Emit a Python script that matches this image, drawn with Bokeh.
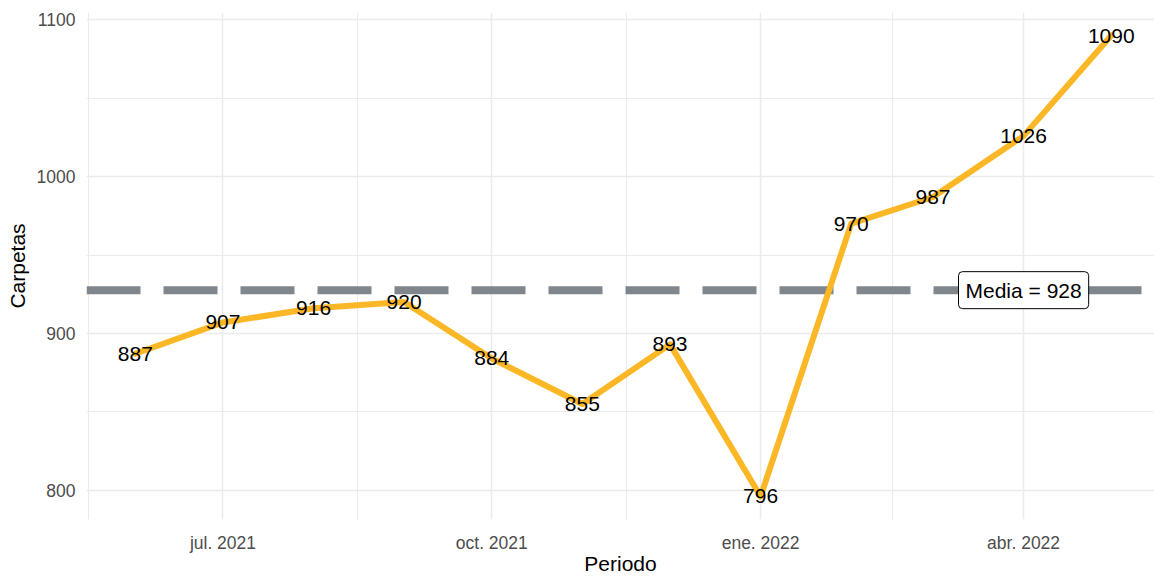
import pandas as pd
from bokeh.plotting import figure
from bokeh.models import (ColumnDataSource, Range1d, FixedTicker, Span, Label)
from bokeh.embed import file_html
from bokeh.resources import INLINE

# ---- data ----
periods = ["2021-06-01", "2021-07-01", "2021-08-01", "2021-09-01", "2021-10-01", "2021-11-01",
           "2021-12-01", "2022-01-01", "2022-02-01", "2022-03-01", "2022-04-01", "2022-05-01"]
carpetas = [887, 907, 916, 920, 884, 855, 893, 796, 970, 987, 1026, 1090]
x_tick_dates = ["2021-07-01", "2021-10-01", "2022-01-01", "2022-04-01"]
x_tick_labels = ["jul. 2021", "oct. 2021", "ene. 2022", "abr. 2022"]
y_ticks = [800, 900, 1000, 1100]
y_minor = [850, 950, 1050]

DAY = 86400000.0


def ms(d):
    return int(pd.Timestamp(d).value // 10**6)


xs = [ms(d) for d in periods]
labels = [str(v) for v in carpetas]
mean_val = sum(carpetas) / len(carpetas)

src = ColumnDataSource(dict(x=xs, y=carpetas, label=labels))

FONT = "Liberation Sans"
LINE_COLOR = "#FBB726"
GRID = "#EBEBEB"

x_start = xs[0] - 16.7 * DAY
x_end = xs[-1] + 14.8 * DAY

p = figure(width=1154, height=577, output_backend="svg", toolbar_location=None,
           x_range=Range1d(x_start, x_end), y_range=Range1d(781.3, 1104.7),
           min_border_left=86, min_border_right=0, min_border_top=12, min_border_bottom=57)
p.outline_line_color = None
p.background_fill_color = "white"
p.border_fill_color = "white"

# ticks / grid
xt = [ms(d) for d in x_tick_dates]
x_minor = [(a + b) / 2 for a, b in zip([xt[0] - (xt[1] - xt[0])] + xt, xt + [xt[-1] + (xt[-1] - xt[-2])])]
p.xaxis.ticker = FixedTicker(ticks=xt, minor_ticks=x_minor)
p.xaxis.major_label_overrides = {t: l for t, l in zip(xt, x_tick_labels)}
p.yaxis.ticker = FixedTicker(ticks=y_ticks, minor_ticks=y_minor)

for ax in (p.xaxis[0], p.yaxis[0]):
    ax.axis_line_color = None
    ax.major_tick_line_color = None
    ax.minor_tick_line_color = None
    ax.major_tick_out = 0
    ax.minor_tick_out = 0
    ax.major_label_text_font = FONT
    ax.major_label_text_font_size = "17.5px"
    ax.major_label_text_color = "#4D4D4D"
    ax.axis_label_text_font = FONT
    ax.axis_label_text_font_size = "21px"
    ax.axis_label_text_font_style = "normal"
    ax.axis_label_text_color = "black"

p.xaxis.axis_label = "Periodo"
p.yaxis.axis_label = "Carpetas"
p.xaxis.major_label_standoff = 13
p.xaxis.axis_label_standoff = -4
p.yaxis.major_label_standoff = 11
p.yaxis.axis_label_standoff = 5

for g in (p.xgrid[0], p.ygrid[0]):
    g.grid_line_color = GRID
    g.grid_line_width = 1.5
    g.minor_grid_line_color = GRID
    g.minor_grid_line_width = 1.0

# mean line
span = Span(location=mean_val, dimension="width", line_color="#7F878C", line_width=8,
            line_dash="54 23", level="underlay")
p.add_layout(span)

# series line
p.line("x", "y", source=src, line_color=LINE_COLOR, line_width=6, line_join="round", line_cap="round")

# data labels
p.text("x", "y", text="label", source=src, text_align="center", text_baseline="middle",
       text_font={"value": FONT}, text_font_size="21px", text_color="black")

# mean label
lab = Label(x=xt[-1], y=mean_val, text=f"Media = {round(mean_val)}", text_align="center",
            text_baseline="middle", text_font=FONT, text_font_size="21px", text_color="black",
            background_fill_color="white", border_line_color="black", border_line_width=1,
            padding=7, border_radius=4)
p.add_layout(lab)

open("out.html", "w").write(file_html(p, INLINE))
